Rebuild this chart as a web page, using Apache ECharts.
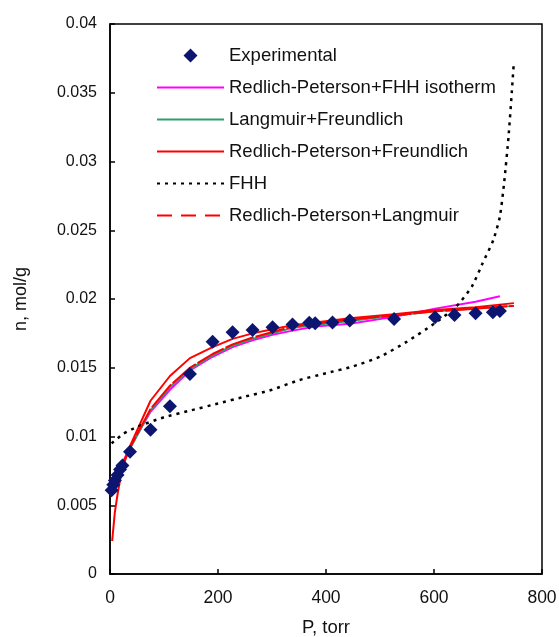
<!DOCTYPE html>
<html><head><meta charset="utf-8">
<script src="https://cdn.jsdelivr.net/npm/echarts@6/dist/echarts.min.js"></script>
<style>html,body{margin:0;padding:0;background:#fff}#c{width:559px;height:637px}</style>
</head><body><div id="c"></div>
<script>
// Experimental data
const expP = [3, 6, 9, 14, 18.5, 23, 37, 75, 111, 148, 190, 227, 264, 301, 338, 369, 380, 412, 444, 526, 602, 638, 677, 709, 722];
const expN = [0.0061, 0.0065, 0.0068, 0.0072, 0.0076, 0.0079, 0.0089, 0.0105, 0.0122, 0.01455, 0.0169, 0.01758, 0.01775, 0.01794, 0.01815, 0.01828, 0.01823, 0.0183, 0.01843, 0.01855, 0.01867, 0.01884, 0.01896, 0.01903, 0.01913];

// Redlich-Peterson + FHH isotherm
const rpfhhP = [3, 9, 18, 37, 75, 111, 148, 190, 227, 264, 301, 338, 380, 444, 526, 602, 677, 722];
const rpfhhN = [0.0062, 0.0068, 0.0077, 0.0092, 0.0118, 0.0134, 0.0148, 0.0158, 0.0165, 0.0170, 0.0174, 0.0177, 0.0180, 0.0182, 0.0187, 0.0193, 0.0198, 0.0202];

// Langmuir + Freundlich
const lfP = [3, 9, 18, 37, 75, 111, 148, 190, 227, 264, 301, 338, 380, 444, 526, 602, 677, 748];
const lfN = [0.0060, 0.0067, 0.0076, 0.0091, 0.0119, 0.0136, 0.0149, 0.0159, 0.0166, 0.0171, 0.0175, 0.0179, 0.0181, 0.0184, 0.0188, 0.0191, 0.0193, 0.0195];

// Redlich-Peterson + Freundlich
const rpfP = [4, 9, 14, 18.5, 23, 37, 75, 111, 148, 190, 227, 264, 301, 338, 380, 444, 526, 602, 677, 748];
const rpfN = [0.0024, 0.0045, 0.0058, 0.0068, 0.0077, 0.0093, 0.0126, 0.0144, 0.0157, 0.0165, 0.0171, 0.0175, 0.0178, 0.0181, 0.0183, 0.0186, 0.0189, 0.0192, 0.0194, 0.0197];

// FHH
const fhhP = [3, 25, 50, 100, 150, 200, 250, 300, 350, 400, 450, 500, 550, 600, 640, 670, 690, 710, 722, 730, 738, 744, 748];
const fhhN = [0.0095, 0.0102, 0.0107, 0.0114, 0.0119, 0.0124, 0.0129, 0.0134, 0.0141, 0.0146, 0.0151, 0.0158, 0.0169, 0.0182, 0.0194, 0.0209, 0.0226, 0.0243, 0.0260, 0.0285, 0.0318, 0.0350, 0.0373];

// Redlich-Peterson + Langmuir
const rplP = [3, 9, 18, 37, 75, 111, 148, 190, 227, 264, 301, 338, 380, 444, 526, 602, 677, 748];
const rplN = [0.0058, 0.0066, 0.0075, 0.0092, 0.0120, 0.0137, 0.0150, 0.0160, 0.0167, 0.0172, 0.0176, 0.0180, 0.0182, 0.0185, 0.0188, 0.0191, 0.0193, 0.0195];

const xTicks = [0, 200, 400, 600, 800];
const yTicks = [0, 0.005, 0.01, 0.015, 0.02, 0.025, 0.03, 0.035, 0.04];

const zip = (a, b) => a.map((v, i) => [v, b[i]]);
const FONT = 'Liberation Sans, Arial, sans-serif';
const NAVY = '#0c1670';
const hideSym = {opacity: 0};
// diamond centred in a 67x14 box (tiny corner specks fix the box size)
const legendDiamond = 'path://M0,0L0.05,0L0.05,0.05Z M67,14L66.95,14L66.95,13.95Z M26.5,7L33.5,0L40.5,7L33.5,14Z';

const chart = echarts.init(document.getElementById('c'), null, {renderer: 'canvas'});
chart.setOption({
  animation: false,
  backgroundColor: '#fff',
  grid: {left: 110, right: 17, top: 24, bottom: 63, outerBoundsMode: 'none', containLabel: false,
         show: true, borderColor: '#000', borderWidth: 1.5, backgroundColor: 'transparent'},
  legend: {
    orient: 'vertical', left: 151, top: 41,
    itemWidth: 67, itemHeight: 14, itemGap: 13,
    textStyle: {fontFamily: FONT, fontSize: 18.5, color: '#111'},
    data: [
      {name: 'Experimental', icon: legendDiamond, itemStyle: {color: NAVY, opacity: 1}},
      {name: 'Redlich-Peterson+FHH isotherm', itemStyle: hideSym},
      {name: 'Langmuir+Freundlich', itemStyle: hideSym},
      {name: 'Redlich-Peterson+Freundlich', itemStyle: hideSym},
      {name: 'FHH', itemStyle: hideSym},
      {name: 'Redlich-Peterson+Langmuir', itemStyle: hideSym, lineStyle: {type: [15, 9]}}
    ]
  },
  xAxis: {
    type: 'value', min: xTicks[0], max: xTicks[xTicks.length - 1], interval: 200,
    name: 'P, torr', nameLocation: 'middle', nameGap: 44,
    nameTextStyle: {fontFamily: FONT, fontSize: 18.5, color: '#111'},
    axisLine: {show: true, lineStyle: {color: '#000', width: 1.5}},
    axisTick: {show: true, inside: true, length: 5, lineStyle: {color: '#000', width: 1.5}},
    axisLabel: {fontFamily: FONT, fontSize: 17.5, color: '#111', margin: 15},
    splitLine: {show: false}
  },
  yAxis: {
    type: 'value', min: yTicks[0], max: yTicks[yTicks.length - 1], interval: 0.005,
    name: 'n, mol/g', nameLocation: 'middle', nameGap: 80,
    nameTextStyle: {fontFamily: FONT, fontSize: 18, color: '#111'},
    axisLine: {show: true, lineStyle: {color: '#000', width: 1.5}},
    axisTick: {show: true, inside: true, length: 5, lineStyle: {color: '#000', width: 1.5}},
    axisLabel: {fontFamily: FONT, fontSize: 16, color: '#111', margin: 13},
    splitLine: {show: false}
  },
  series: [
    {name: 'Experimental', type: 'scatter', symbol: 'diamond', symbolSize: 14, z: 10,
     itemStyle: {color: NAVY, opacity: 1}, data: zip(expP, expN)},
    {name: 'Redlich-Peterson+FHH isotherm', type: 'line', showSymbol: false, symbol: 'none',
     lineStyle: {color: '#ff00ff', width: 2}, itemStyle: {color: '#ff00ff'}, data: zip(rpfhhP, rpfhhN)},
    {name: 'Langmuir+Freundlich', type: 'line', showSymbol: false, symbol: 'none',
     lineStyle: {color: '#2e9e6e', width: 2}, itemStyle: {color: '#2e9e6e'}, data: zip(lfP, lfN)},
    {name: 'Redlich-Peterson+Freundlich', type: 'line', showSymbol: false, symbol: 'none',
     lineStyle: {color: '#ff0000', width: 2}, itemStyle: {color: '#ff0000'}, data: zip(rpfP, rpfN)},
    {name: 'FHH', type: 'line', showSymbol: false, symbol: 'none', smooth: 0.2,
     lineStyle: {color: '#000', width: 2.5, type: [3, 5]}, itemStyle: {color: '#000'}, data: zip(fhhP, fhhN)},
    {name: 'Redlich-Peterson+Langmuir', type: 'line', showSymbol: false, symbol: 'none',
     lineStyle: {color: '#ff0000', width: 2, type: [30, 2]}, itemStyle: {color: '#ff0000'}, data: zip(rplP, rplN)}
  ]
});
</script></body></html>
